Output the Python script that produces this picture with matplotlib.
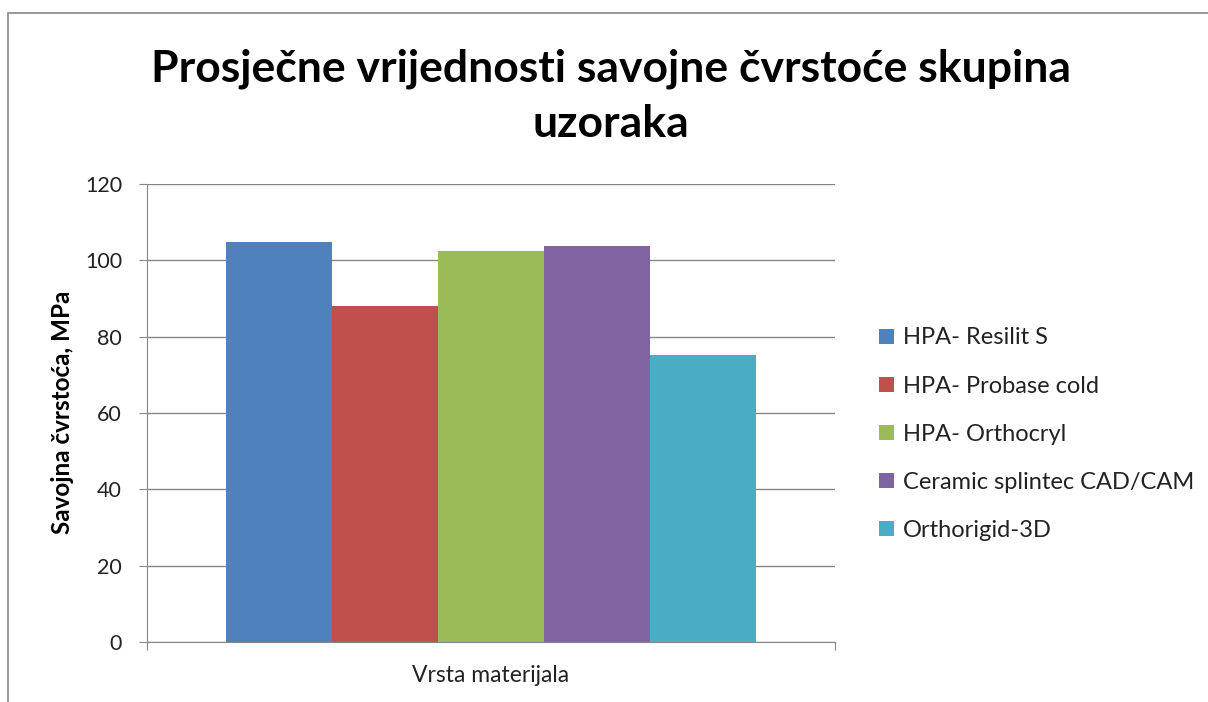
import matplotlib.pyplot as plt
from matplotlib.patches import Rectangle
import numpy as np

# podaci
materijali = ['HPA- Resilit S', 'HPA- Probase cold', 'HPA- Orthocryl',
              'Ceramic splintec CAD/CAM', 'Orthorigid-3D']
cvrstoca = [104.8, 88.1, 102.5, 103.7, 75.1]
boje = ['#4F81BD', '#C0504D', '#9BBB59', '#8064A2', '#4BACC6']
kategorija = ['Vrsta materijala']

plt.rcParams['font.family'] = ['Lato', 'DejaVu Sans']

W, H = 1208, 702
fig = plt.figure(figsize=(W / 100, H / 100), dpi=100)

# okvir grafikona
fig.patches.append(Rectangle((8 / W, -0.1), 1.2, (H - 13) / H + 0.1,
                             transform=fig.transFigure, fill=False,
                             edgecolor='#868686', linewidth=1.2))

ax = fig.add_axes([147 / W, (H - 642) / H, 688 / W, 458 / H])

n = len(materijali)
sirina = 1 / (n + 1.5)
x0 = np.arange(len(kategorija))
for i, (m, v, c) in enumerate(zip(materijali, cvrstoca, boje)):
    ax.bar(x0 + (i - (n - 1) / 2) * sirina, [v], sirina, color=c, label=m, zorder=3)

ax.set_xlim(-0.5, 0.5)
ax.set_ylim(0, 120)
ax.set_yticks(range(0, 121, 20))
ax.set_xticks([-0.5, 0.5])
ax.set_xticklabels(['', ''])
ax.tick_params(axis='x', length=6, color='#868686', direction='out')
ax.tick_params(axis='y', length=6, color='#868686', labelsize=15.5, pad=12,
               labelcolor='#222222')
ax.grid(axis='y', color='#868686', linewidth=1, zorder=0)
for s in ['top', 'right']:
    ax.spines[s].set_visible(False)
for s in ['left', 'bottom']:
    ax.spines[s].set_color('#868686')

fig.text(491 / W, 1 - 676 / H, kategorija[0], ha='center', va='center',
         fontsize=16.5, color='#222222')
fig.text(62 / W, 1 - 412 / H, 'Savojna čvrstoća, MPa', rotation=90,
         ha='center', va='center', fontsize=17.5, fontweight='bold')

fig.text(611 / W, 1 - 96 / H,
         'Prosječne vrijednosti savojne čvrstoće skupina\nuzoraka',
         ha='center', va='center', fontsize=32, fontweight='bold', linespacing=1.45)

fig.legend(loc='upper left', bbox_to_anchor=(870 / W, 1 - 318 / H), frameon=False,
           fontsize=17, handlelength=0.6, handleheight=0.6, handletextpad=0.4,
           labelspacing=1.15, borderaxespad=0, labelcolor='#222222')

fig.savefig('out.png', dpi=100)
